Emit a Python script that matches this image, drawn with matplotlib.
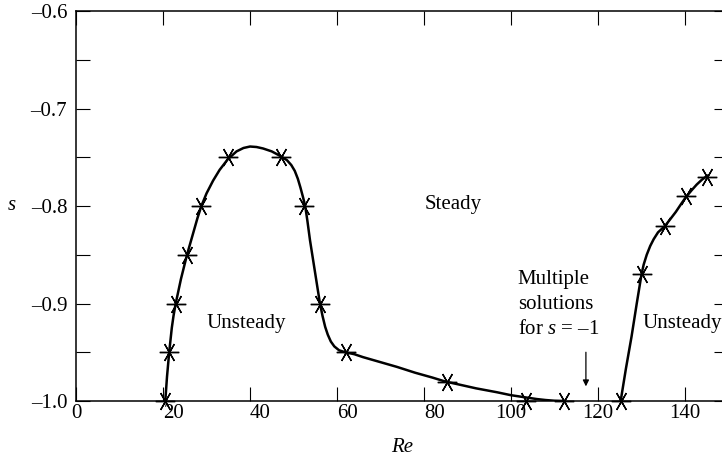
import matplotlib
matplotlib.use("Agg")
import matplotlib.pyplot as plt
from matplotlib.ticker import MultipleLocator, FuncFormatter

plt.rcParams['font.family'] = ['Liberation Serif', 'DejaVu Serif']
plt.rcParams['mathtext.fontset'] = 'custom'
plt.rcParams['mathtext.rm'] = 'Liberation Serif'
plt.rcParams['mathtext.it'] = 'Liberation Serif:italic'

# computed points (asterisks)
re_pts = [20.5, 21.4, 22.9, 25.5, 28.8, 34.9, 47.1, 52.5, 56.0, 62.0,
          85.3, 103.4, 112.3, 125.3, 130.1, 135.5, 140.3, 145.2]
s_pts = [-1.0, -0.95, -0.90, -0.85, -0.80, -0.75, -0.75, -0.80, -0.90, -0.95,
         -0.98, -1.0, -1.0, -1.0, -0.87, -0.82, -0.79, -0.77]

# neutral curve, first branch
re_c1 = [20.5, 20.7, 20.9, 21.15, 21.4, 21.7, 22.0, 22.4, 22.9, 23.5, 24.1,
         24.8, 25.5, 26.3, 27.1, 27.9, 28.8, 30.0, 31.5, 33.0, 34.9, 36.9,
         38.5, 40.0, 41.5, 43.0, 45.0, 47.1, 48.5, 49.5, 50.3, 51.0, 51.6,
         52.2, 52.7, 53.2, 53.8, 54.4, 55.0, 55.6, 56.1, 56.7, 57.3, 57.9,
         58.6, 59.4, 60.5, 61.9, 64.0, 66.0, 69.9, 73.8, 78.0, 82.0, 84.9,
         88.0, 92.0, 96.8, 100.0, 103.7, 106.0, 108.0, 110.0, 112.3]
s_c1 = [-1.0, -0.9875, -0.975, -0.9625, -0.95, -0.9375, -0.925, -0.9125,
        -0.90, -0.8875, -0.875, -0.8625, -0.85, -0.8375, -0.825, -0.8125,
        -0.80, -0.787, -0.774, -0.763, -0.752, -0.744, -0.7405, -0.739,
        -0.7395, -0.741, -0.744, -0.749, -0.753, -0.758, -0.764, -0.772,
        -0.781, -0.791, -0.80, -0.815, -0.835, -0.852, -0.869, -0.886,
        -0.90, -0.913, -0.924, -0.932, -0.939, -0.944, -0.948, -0.950,
        -0.952, -0.955, -0.960, -0.965, -0.971, -0.976, -0.980, -0.983,
        -0.987, -0.991, -0.994, -0.9965, -0.998, -0.999, -0.9997, -1.0]

# second branch
re_c2 = [125.3, 126.5, 127.8, 129.0, 130.1, 130.6, 131.3, 132.1, 132.9,
         133.9, 135.5, 136.8, 138.0, 139.2, 140.3, 141.6, 142.8, 144.0, 145.2]
s_c2 = [-1.0, -0.967, -0.934, -0.900, -0.870, -0.860, -0.850, -0.841,
        -0.834, -0.827, -0.8205, -0.813, -0.806, -0.798, -0.791, -0.784,
        -0.778, -0.773, -0.769]

fs = 15

fig = plt.figure(figsize=(7.22, 4.58), dpi=100)
ax = fig.add_axes([76.2/722, 1 - 401/458, (728 - 76.2)/722, 390/458])

ax.plot(re_c1, s_c1, c='k', lw=1.8, solid_joinstyle='round')
ax.plot(re_c2, s_c2, c='k', lw=1.8, solid_joinstyle='round')
ax.plot(re_pts, s_pts, ls='none', marker=(6, 2, 90), ms=14, mew=1.0,
        mec='k', clip_on=False, zorder=5)

ax.set_xlim(0, 150)
ax.set_ylim(-1.0, -0.6)
ax.xaxis.set_major_locator(MultipleLocator(20))
ax.yaxis.set_major_locator(MultipleLocator(0.1))
ax.yaxis.set_minor_locator(MultipleLocator(0.05))
ax.yaxis.set_major_formatter(FuncFormatter(
    lambda v, p: f'{v:.1f}'.replace('-', '\u2013')))
ax.tick_params(which='both', direction='in', top=True, right=True,
               length=10, width=0.8, labelsize=fs)
ax.tick_params(axis='x', pad=2)
ax.tick_params(axis='y', pad=6.5)
for sp in ax.spines.values():
    sp.set_linewidth(1.1)

fig.canvas.draw()
for lab in ax.get_xticklabels():
    if lab.get_text() in ['20', '40', '60', '80']:
        lab.set_ha('left')

ax.set_xlabel('Re', fontsize=fs, fontstyle='italic', va='center')
ax.xaxis.set_label_coords(0.5, -0.118)
ax.set_ylabel('s', fontsize=fs, fontstyle='italic', rotation=0,
              va='center', ha='center')
ax.yaxis.set_label_coords(-0.0985, 0.5)

ax.text(86.7, -0.798, 'Steady', fontsize=fs, ha='center', va='center')
ax.text(39.1, -0.925, 'Unsteady', fontsize=fs, ha='center', va='baseline')
ax.text(130.4, -0.925, 'Unsteady', fontsize=fs, ha='left', va='baseline')
ax.text(101.6, -0.880, 'Multiple', fontsize=fs, va='baseline')
ax.text(101.6, -0.9056, 'solutions', fontsize=fs, va='baseline')
ax.text(101.6, -0.9313, 'for $s$ = \u20131', fontsize=fs, va='baseline')

ax.annotate('', xy=(117.3, -0.985), xytext=(117.3, -0.95),
            arrowprops=dict(arrowstyle='-|>', lw=0.9, color='k',
                            mutation_scale=9, shrinkA=0, shrinkB=0))

fig.savefig('out.png', dpi=100)
